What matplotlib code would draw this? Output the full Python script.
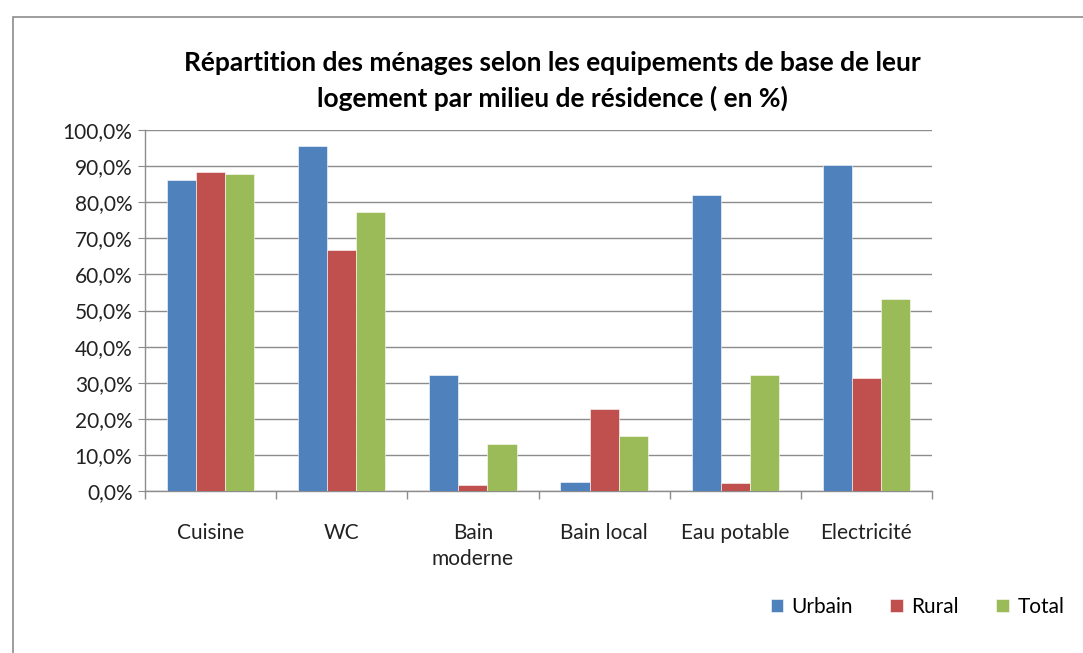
import numpy as np
import matplotlib.pyplot as plt
from matplotlib.patches import Rectangle
from matplotlib.ticker import FuncFormatter, FixedLocator

# données (en %)
categories = ["Cuisine", "WC", "Bain\nmoderne", "Bain local", "Eau potable", "Electricité"]
urbain = [86.2, 95.6, 32.2, 2.5, 82.0, 90.2]
rural = [88.4, 66.8, 1.7, 22.7, 2.1, 31.2]
total = [87.7, 77.4, 13.0, 15.2, 32.2, 53.1]
series = ["Urbain", "Rural", "Total"]
colors = ["#4F81BD", "#C0504D", "#9BBB59"]

plt.rcParams['font.family'] = ['Lato', 'DejaVu Sans']

fig = plt.figure(figsize=(10.83, 6.53), dpi=100)
ax = fig.add_axes([145 / 1083, 1 - 491 / 653, 787 / 1083, 361 / 653])

# cadre du graphique
fig.patches.append(Rectangle((13 / 1083, -0.05), 1.1, 1 - 17 / 653 + 0.05,
                             transform=fig.transFigure, fill=False,
                             edgecolor="#8C8C8C", linewidth=1.2))

x = np.arange(len(categories))
w = 0.222
for i, (vals, name) in enumerate(zip([urbain, rural, total], series)):
    ax.bar(x + (i - 1) * w, vals, width=w, color=colors[i], label=name,
           edgecolor="white", linewidth=0.4, zorder=3)

ax.set_xlim(-0.5, len(categories) - 0.5)
ax.set_ylim(0, 100)
ax.set_yticks(np.arange(0, 101, 10))
ax.yaxis.set_major_formatter(FuncFormatter(lambda v, p: f"{v:.1f}%".replace(".", ",")))
ax.grid(axis="y", color="#8C8C8C", linewidth=1.0, zorder=0)

ax.set_xticks(x)
ax.set_xticklabels(categories, linespacing=1.4)
ax.tick_params(axis="x", length=0, pad=23, labelsize=15, colors="#222222")
ax.xaxis.set_minor_locator(FixedLocator(np.arange(-0.5, len(categories), 1.0)))
ax.tick_params(axis="x", which="minor", length=6, color="#8C8C8C", width=1)
ax.tick_params(axis="y", length=5, color="#8C8C8C", labelsize=15, pad=4, labelcolor="#222222")

for s in ["top", "right"]:
    ax.spines[s].set_visible(False)
for s in ["left", "bottom"]:
    ax.spines[s].set_color("#8C8C8C")
    ax.spines[s].set_linewidth(1.0)

fig.text(552 / 1083, 1 - 81 / 653,
         "Répartition des ménages selon les equipements de base de leur\nlogement par milieu de résidence ( en %)",
         ha="center", va="center", fontsize=19, fontweight="bold", linespacing=1.55)

fig.legend(loc="center right", bbox_to_anchor=(1.0, 1 - 607 / 653), ncol=3,
           frameon=False, fontsize=15, handlelength=0.6, handleheight=0.6,
           columnspacing=1.8, handletextpad=0.4)

fig.savefig("out.png", dpi=100)
